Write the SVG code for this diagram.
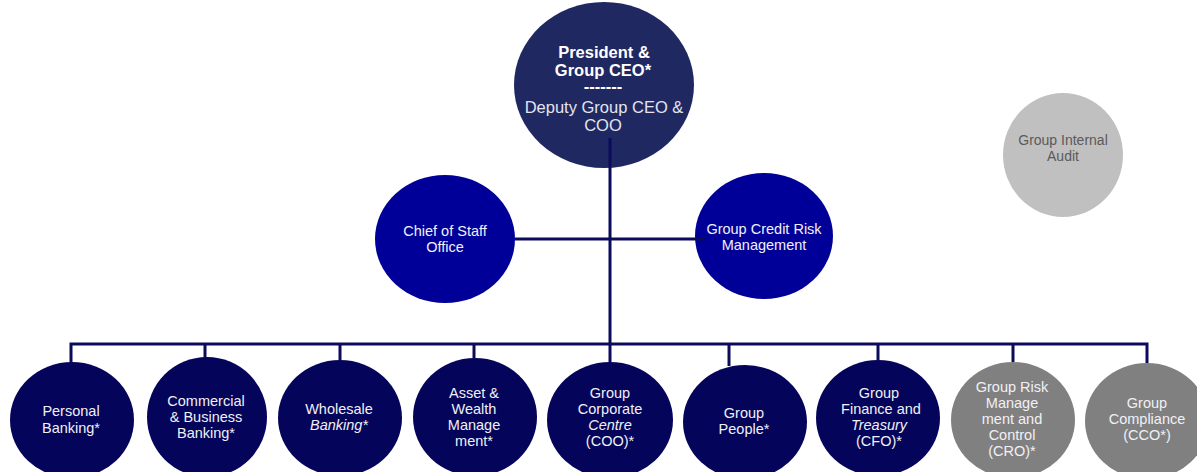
<svg xmlns="http://www.w3.org/2000/svg" width="1197" height="472" viewBox="0 0 1197 472">
<style>
text{font-family:"Liberation Sans",Arial,sans-serif;text-anchor:middle;}
.top{fill:#1f2861;}
.mid{fill:#000099;}
.bot{fill:#04045a;}
.grey{fill:#808080;}
.lt{fill:#c0c0c0;}
.t{fill:#f0f0f5;font-size:14.5px;}
.tb{fill:#ffffff;font-size:16.5px;font-weight:bold;}
.tr{fill:#e4e4ee;font-size:16.5px;}
.ta{fill:#5a5a5a;font-size:14px;}
.i{font-style:italic;}
.c{stroke:#0b0b5c;stroke-width:3;fill:none;}
</style>
<rect width="1197" height="472" fill="#ffffff"/>
<g id="ceo"><ellipse class="top" cx="604" cy="85" rx="90" ry="83"/>
<text class="tb" x="604" y="58">President &amp;</text>
<text class="tb" x="603" y="76">Group CEO*</text>
<text class="tb" x="603" y="92">-------</text>
<text class="tr" x="604" y="113">Deputy Group CEO &amp;</text>
<text class="tr" x="603" y="131">COO</text></g>
<g id="audit"><ellipse class="lt" cx="1063" cy="155" rx="60" ry="62"/>
<text class="ta" x="1063" y="145">Group Internal</text>
<text class="ta" x="1063" y="161">Audit</text></g>
<g id="chief"><ellipse class="mid" cx="445" cy="239" rx="70" ry="64"/>
<text class="t" x="445" y="236">Chief of Staff</text>
<text class="t" x="445" y="252">Office</text></g>
<g id="credit"><ellipse class="mid" cx="764" cy="236" rx="69" ry="63"/>
<text class="t" x="764" y="234">Group Credit Risk</text>
<text class="t" x="764" y="250">Management</text></g>
<g id="personal"><ellipse class="bot" cx="72" cy="420" rx="62" ry="58"/>
<text class="t" x="71" y="416">Personal</text>
<text class="t" x="71" y="433">Banking*</text></g>
<g id="commercial"><ellipse class="bot" cx="207" cy="417" rx="60" ry="60"/>
<text class="t" x="206" y="406">Commercial</text>
<text class="t" x="206" y="422">&amp; Business</text>
<text class="t" x="206" y="438">Banking*</text></g>
<g id="wholesale"><ellipse class="bot" cx="340" cy="418" rx="62" ry="58"/>
<text class="t" x="339" y="414">Wholesale</text>
<text class="t i" x="339" y="430">Banking*</text></g>
<g id="asset"><ellipse class="bot" cx="475" cy="417" rx="62" ry="59"/>
<text class="t" x="474" y="398">Asset &amp;</text>
<text class="t" x="474" y="414">Wealth</text>
<text class="t" x="474" y="430">Manage</text>
<text class="t" x="474" y="446">ment*</text></g>
<g id="corporate"><ellipse class="bot" cx="610" cy="420" rx="63" ry="58"/>
<text class="t" x="610" y="398">Group</text>
<text class="t" x="610" y="414">Corporate</text>
<text class="t i" x="610" y="430">Centre</text>
<text class="t" x="610" y="446">(COO)*</text></g>
<g id="people"><ellipse class="bot" cx="745" cy="422" rx="62" ry="57"/>
<text class="t" x="744" y="418">Group</text>
<text class="t" x="744" y="434">People*</text></g>
<g id="finance"><ellipse class="bot" cx="878" cy="418" rx="62" ry="58"/>
<text class="t" x="879" y="398">Group</text>
<text class="t" x="881" y="414">Finance and</text>
<text class="t i" x="879" y="430">Treasury</text>
<text class="t" x="879" y="446">(CFO)*</text></g>
<g id="risk"><ellipse class="grey" cx="1013" cy="420" rx="62" ry="58"/>
<text class="t" x="1012" y="392">Group Risk</text>
<text class="t" x="1012" y="408">Manage</text>
<text class="t" x="1012" y="424">ment and</text>
<text class="t" x="1012" y="440">Control</text>
<text class="t" x="1012" y="456">(CRO)*</text></g>
<g id="compliance"><ellipse class="grey" cx="1147" cy="421" rx="62" ry="58"/>
<text class="t" x="1147" y="408">Group</text>
<text class="t" x="1147" y="424">Compliance</text>
<text class="t" x="1147" y="440">(CCO*)</text></g>
<g id="connectors">
<line class="c" x1="610" y1="138" x2="610" y2="344"/>
<line class="c" x1="515" y1="239" x2="705" y2="239"/>
<polyline class="c" points="71,363 71,344 1147,344 1147,363"/>
<line class="c" x1="205" y1="344" x2="205" y2="358"/>
<line class="c" x1="340" y1="344" x2="340" y2="360"/>
<line class="c" x1="474" y1="344" x2="474" y2="359"/>
<line class="c" x1="610" y1="344" x2="610" y2="362"/>
<line class="c" x1="729" y1="344" x2="729" y2="366"/>
<line class="c" x1="878" y1="344" x2="878" y2="360"/>
<line class="c" x1="1013" y1="344" x2="1013" y2="362"/>
</g>
</svg>
